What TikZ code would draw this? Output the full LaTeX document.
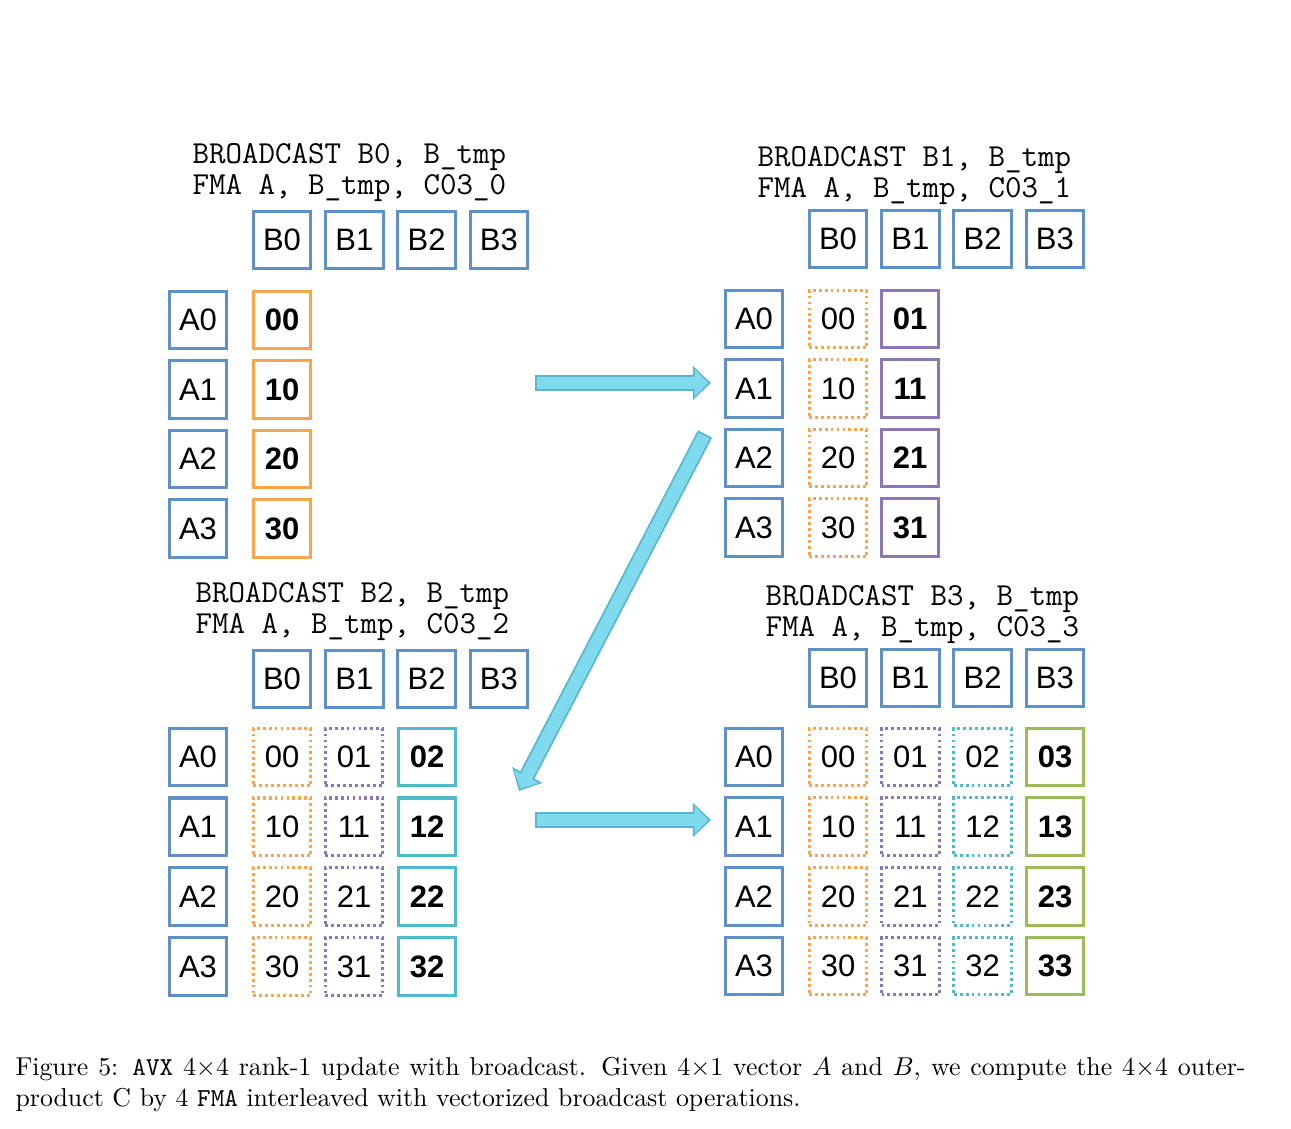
\documentclass[tikz,border=0pt]{standalone}
\usepackage{fontspec}
\newfontfamily\boxfont{Liberation Sans}
\usepackage{tikz}
\usetikzlibrary{arrows.meta}
\definecolor{bblue}{RGB}{95,145,200}
\definecolor{corange}{RGB}{247,166,77}
\definecolor{cpurple}{RGB}{140,118,180}
\definecolor{ccyan}{RGB}{80,185,205}
\definecolor{cgreen}{RGB}{156,188,90}
\definecolor{arrowedge}{RGB}{88,182,210}
\definecolor{arrowfill}{RGB}{128,218,238}

\begin{document}
\begin{tikzpicture}[x=0.387pt, y=-0.387pt,
    cell/.style={draw, line width=1.2pt, minimum size=22.3pt, inner sep=0pt,
      font=\boxfont\fontsize{12}{14}\selectfont},
    vecbox/.style={cell, draw=bblue},
    newbox/.style={cell, font=\boxfont\fontsize{12}{14}\selectfont\bfseries},
    oldbox/.style={cell, dash pattern=on 1.1pt off 1.2pt},
    code/.style={anchor=base west, inner sep=0pt, font=\ttfamily\fontsize{12.4}{14}\selectfont},
    flow/.style={line width=6.2pt, draw=arrowedge, -{Triangle[length=7pt,width=12.8pt]}},
    flowfill/.style={line width=4.8pt, draw=arrowfill, shorten >=1pt, shorten <=0.7pt,
      -{Triangle[length=5.3pt,width=10.4pt]}}]
  \useasboundingbox (0,0) rectangle (1291,1128);

  % Step 0: broadcast B0
  \node[code] (p1l1) at (192,163) {BROADCAST B0, B\_tmp};
  \node[code] (p1l2) at (192,194) {FMA A, B\_tmp, C03\_0};
  \foreach \j in {0,...,3}
    \node[vecbox] (p1b\j) at ({282+72.3*\j},240) {B\j};
  \foreach \i in {0,...,3} {
    \node[vecbox] (p1a\i) at (198,{320+69.5*\i}) {A\i};
    \node[newbox, draw=corange] (p1c\i0) at (282,{320+69.5*\i}) {\i0};
  }

  % Step 1: broadcast B1
  \node[code] (p2l1) at (757,166) {BROADCAST B1, B\_tmp};
  \node[code] (p2l2) at (757,197) {FMA A, B\_tmp, C03\_1};
  \foreach \j in {0,...,3}
    \node[vecbox] (p2b\j) at ({838+72.3*\j},239) {B\j};
  \foreach \i in {0,...,3} {
    \node[vecbox] (p2a\i) at (754,{319+69.5*\i}) {A\i};
    \node[oldbox, draw=corange] (p2c\i0) at (838,{319+69.5*\i}) {\i0};
    \node[newbox, draw=cpurple] (p2c\i1) at (910,{319+69.5*\i}) {\i1};
  }

  % Step 2: broadcast B2
  \node[code] (p3l1) at (195,602) {BROADCAST B2, B\_tmp};
  \node[code] (p3l2) at (195,633) {FMA A, B\_tmp, C03\_2};
  \foreach \j in {0,...,3}
    \node[vecbox] (p3b\j) at ({282+72.3*\j},679) {B\j};
  \foreach \i in {0,...,3} {
    \node[vecbox] (p3a\i) at (198,{757+69.8*\i}) {A\i};
    \node[oldbox, draw=corange] (p3c\i0) at (282,{757+69.8*\i}) {\i0};
    \node[oldbox, draw=cpurple] (p3c\i1) at (354,{757+69.8*\i}) {\i1};
    \node[newbox, draw=ccyan] (p3c\i2) at (427,{757+69.8*\i}) {\i2};
  }

  % Step 3: broadcast B3
  \node[code] (p4l1) at (765,605) {BROADCAST B3, B\_tmp};
  \node[code] (p4l2) at (765,636) {FMA A, B\_tmp, C03\_3};
  \foreach \j in {0,...,3}
    \node[vecbox] (p4b\j) at ({838+72.3*\j},678) {B\j};
  \foreach \i in {0,...,3} {
    \node[vecbox] (p4a\i) at (754,{757+69.7*\i}) {A\i};
    \foreach \j/\col in {0/corange,1/cpurple,2/ccyan}
      \node[oldbox, draw=\col] (p4c\i\j) at ({838+72.3*\j},{757+69.7*\i}) {\i\j};
    \node[newbox, draw=cgreen] (p4c\i3) at (1055,{757+69.7*\i}) {\i3};
  }

  % arrows between steps
  \coordinate (s1) at (535,383);
  \coordinate (e1) at (711,383);
  \coordinate (s2) at (705,434);
  \coordinate (e2) at (519,791);
  \coordinate (s3) at (535,820);
  \coordinate (e3) at (711,820);
  \foreach \a/\b in {s1/e1, s2/e2, s3/e3} {
    \draw[flow] (\a) -- (\b);
    \draw[flowfill] (\a) -- (\b);
  }

  % caption
  \node[anchor=north west, inner sep=0pt, text width=476pt, align=justify,
    font=\fontsize{10}{12}\selectfont] (caption) at (15,1057)
    {Figure 5: \texttt{AVX} $4{\times}4$ rank-1 update with broadcast. Given $4{\times}1$ vector $A$ and $B$, we compute the $4{\times}4$ outer-\linebreak product C by 4 \texttt{FMA} interleaved with vectorized broadcast operations.};
\end{tikzpicture}
\end{document}
